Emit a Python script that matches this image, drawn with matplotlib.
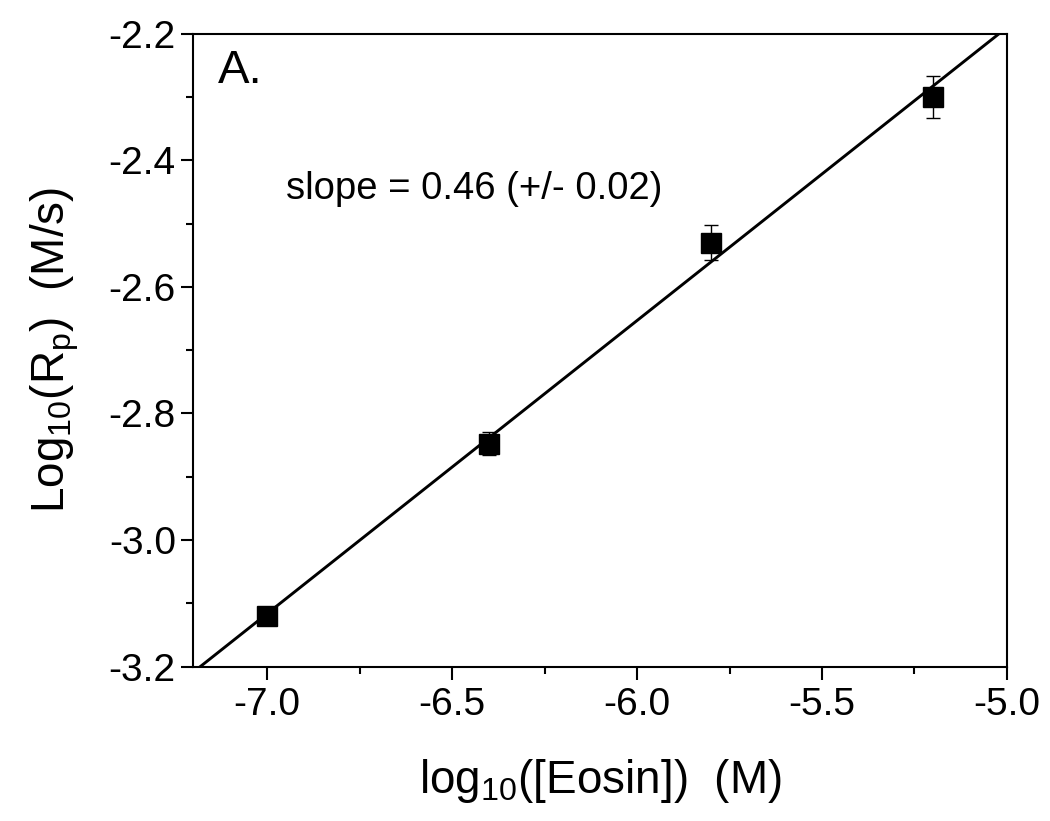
import numpy as np
import matplotlib
matplotlib.use('Agg')
import matplotlib.pyplot as plt
from matplotlib.ticker import MultipleLocator

plt.rcParams['font.family'] = ['Liberation Sans', 'DejaVu Sans']
plt.rcParams['mathtext.fontset'] = 'custom'
plt.rcParams['mathtext.rm'] = 'Liberation Sans'
plt.rcParams['mathtext.it'] = 'Liberation Sans:italic'

# data
log_eosin = [-7.0, -6.4, -5.8, -5.2]
log_rp = [-3.12, -2.848, -2.53, -2.30]
log_rp_err = [0.008, 0.018, 0.028, 0.033]

# linear fit
slope, intercept = np.polyfit(log_eosin, log_rp, 1)
xfit = np.array([-7.2, -5.0])

fig = plt.figure(figsize=(10.5, 8.21), dpi=100)
ax = fig.add_axes([0.184, 0.188, 0.775, 0.771])

ax.plot(xfit, slope * xfit + intercept, color='black', linewidth=2.1)
ax.errorbar(log_eosin, log_rp, yerr=log_rp_err, fmt='s', color='black',
            markersize=14, capsize=5, elinewidth=1.0, capthick=1.0)

ax.set_xlim(-7.2, -5.0)
ax.set_ylim(-3.2, -2.2)
ax.xaxis.set_major_locator(MultipleLocator(0.5))
ax.xaxis.set_minor_locator(MultipleLocator(0.25))
ax.yaxis.set_major_locator(MultipleLocator(0.2))
ax.yaxis.set_minor_locator(MultipleLocator(0.1))
ax.xaxis.set_major_formatter(matplotlib.ticker.FormatStrFormatter('%.1f'))
ax.yaxis.set_major_formatter(matplotlib.ticker.FormatStrFormatter('%.1f'))

ax.tick_params(which='both', direction='out', top=False, right=False,
               labelsize=28, width=1.5)
ax.tick_params(which='major', length=9)
ax.tick_params(axis='x', which='major', pad=6)
ax.tick_params(which='minor', length=5)
for s in ax.spines.values():
    s.set_linewidth(1.5)

ax.set_xlabel(r'log$_{10}$([Eosin])  (M)', fontsize=33, labelpad=24)
ax.set_ylabel(r'Log$_{10}$(R$_\mathrm{p}$)  (M/s)', fontsize=33, labelpad=20)

ax.text(0.03, 0.975, 'A.', transform=ax.transAxes, fontsize=34,
        ha='left', va='top')
ax.text(-6.95, -2.446, 'slope = 0.46 (+/- 0.02)', fontsize=27.5,
        ha='left', va='center')

fig.savefig('out.png', dpi=100)
